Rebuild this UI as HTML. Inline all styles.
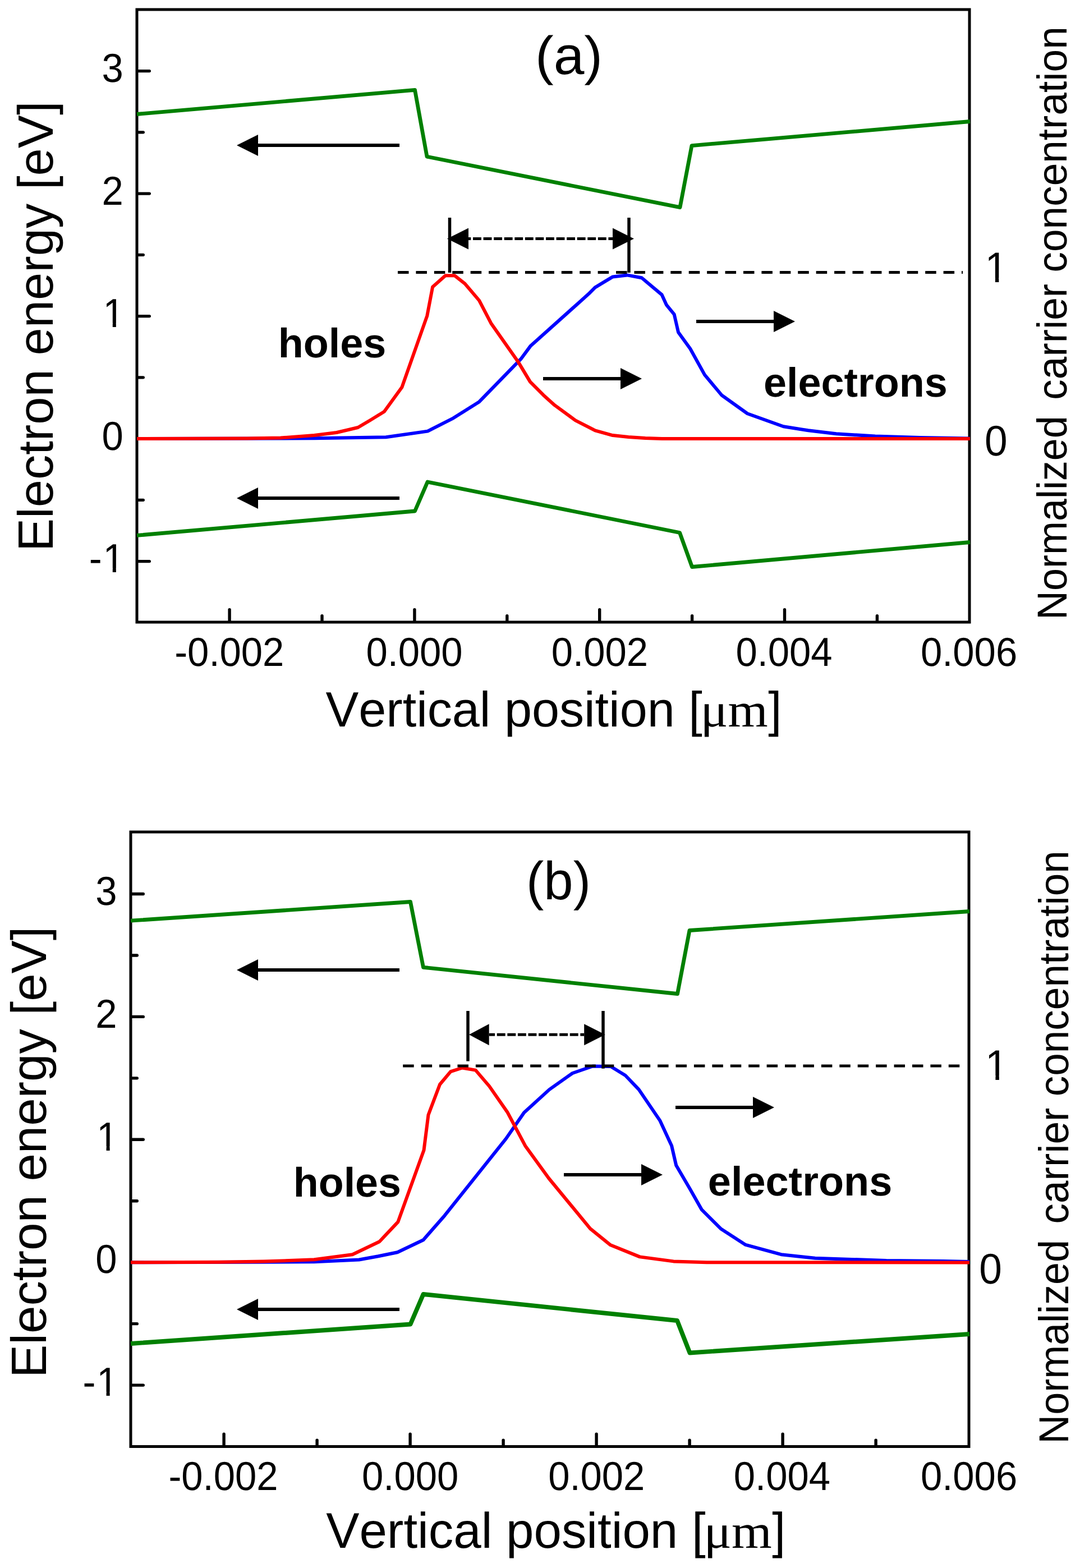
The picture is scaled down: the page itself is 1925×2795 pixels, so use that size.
<!DOCTYPE html>
<html><head><meta charset="utf-8"><title>Band diagram</title>
<style>html,body{margin:0;padding:0;background:#fff;}svg{display:block;}text{fill:#000;text-rendering:geometricPrecision;font-kerning:none;font-feature-settings:"kern" 0,"liga" 0;font-variant-ligatures:none;}</style></head><body>
<svg width="1925" height="2795" viewBox="0 0 1925 2795">
<rect width="1925" height="2795" fill="#fff"/>
<rect x="244" y="17" width="1484" height="1092" fill="none" stroke="#000" stroke-width="5"/>
<line x1="247" y1="126.6" x2="266.3" y2="126.6" stroke="#000" stroke-width="5.4" stroke-linecap="round"/>
<line x1="247" y1="345.1" x2="266.3" y2="345.1" stroke="#000" stroke-width="5.4" stroke-linecap="round"/>
<line x1="247" y1="563.6" x2="266.3" y2="563.6" stroke="#000" stroke-width="5.4" stroke-linecap="round"/>
<line x1="247" y1="782.1" x2="266.3" y2="782.1" stroke="#000" stroke-width="5.4" stroke-linecap="round"/>
<line x1="247" y1="1000.6" x2="266.3" y2="1000.6" stroke="#000" stroke-width="5.4" stroke-linecap="round"/>
<line x1="247" y1="235.85" x2="255.3" y2="235.85" stroke="#000" stroke-width="5.4" stroke-linecap="round"/>
<line x1="247" y1="454.35" x2="255.3" y2="454.35" stroke="#000" stroke-width="5.4" stroke-linecap="round"/>
<line x1="247" y1="672.85" x2="255.3" y2="672.85" stroke="#000" stroke-width="5.4" stroke-linecap="round"/>
<line x1="247" y1="891.35" x2="255.3" y2="891.35" stroke="#000" stroke-width="5.4" stroke-linecap="round"/>
<line x1="409.1" y1="1106" x2="409.1" y2="1086.7" stroke="#000" stroke-width="5.4" stroke-linecap="round"/>
<line x1="738.9" y1="1106" x2="738.9" y2="1086.7" stroke="#000" stroke-width="5.4" stroke-linecap="round"/>
<line x1="1068.7" y1="1106" x2="1068.7" y2="1086.7" stroke="#000" stroke-width="5.4" stroke-linecap="round"/>
<line x1="1398.5" y1="1106" x2="1398.5" y2="1086.7" stroke="#000" stroke-width="5.4" stroke-linecap="round"/>
<line x1="574" y1="1106" x2="574" y2="1097.7" stroke="#000" stroke-width="5.4" stroke-linecap="round"/>
<line x1="903.8" y1="1106" x2="903.8" y2="1097.7" stroke="#000" stroke-width="5.4" stroke-linecap="round"/>
<line x1="1233.6" y1="1106" x2="1233.6" y2="1097.7" stroke="#000" stroke-width="5.4" stroke-linecap="round"/>
<line x1="1563.4" y1="1106" x2="1563.4" y2="1097.7" stroke="#000" stroke-width="5.4" stroke-linecap="round"/>
<polyline points="244,203.5 739.5,160.4 761,279.2 1212,369.7 1233,259.6 1729,216.5" fill="none" stroke="#008000" stroke-width="6.8" stroke-linejoin="round" stroke-linecap="butt"/>
<polyline points="244,954.4 739.5,911 762,859 1211.5,949.5 1233.5,1010.5 1729,966.5" fill="none" stroke="#008000" stroke-width="6.8" stroke-linejoin="round" stroke-linecap="butt"/>
<polyline points="244,782 560,781.3 688,779.2 762.3,768.6 808,745.3 854.2,716.2 928.2,640.2 945.3,617.1 1033,538.4 1049.3,523.8 1060.7,512.4 1091.7,493.6 1117.8,490.4 1143.8,495.3 1179.7,525.4 1187.8,543.3 1201.7,560.4 1209,592.2 1230.2,621.5 1256,668.1 1286.1,704.2 1332.2,737.2 1396.4,760.3 1440.5,767.3 1490.6,773.3 1560,777.4 1640,780 1729,781.6" fill="none" stroke="#0000FF" stroke-width="6" stroke-linejoin="round" stroke-linecap="butt"/>
<polyline points="244,782 440,781.6 500,780.6 560,776 600,771 638,762 660,749 684.8,733.8 716.4,690.2 761.3,562.9 771.1,511.5 793.9,491.2 810.2,491.2 828.6,505.6 854.1,535.6 875.2,576.2 923.2,644.4 945,680.6 968.5,704.2 988.5,722.2 1025.6,749.3 1060.7,767.3 1092.1,776.1 1120.2,779.1 1150.2,781.1 1180,781.9 1729,782" fill="none" stroke="#FF0000" stroke-width="6" stroke-linejoin="round" stroke-linecap="butt"/>
<line x1="709" y1="485.5" x2="1716" y2="485.5" stroke="#000" stroke-width="5" stroke-dasharray="19.5 12.92" stroke-dashoffset="0"/>
<line x1="801.5" y1="388" x2="801.5" y2="486" stroke="#000" stroke-width="5.5" stroke-linecap="butt"/>
<line x1="1121" y1="388" x2="1121" y2="486" stroke="#000" stroke-width="5.5" stroke-linecap="butt"/>
<line x1="835" y1="425.5" x2="1092" y2="425.5" stroke="#000" stroke-width="5" stroke-dasharray="14.9 3.67" stroke-dashoffset="10.57"/>
<polygon points="797,425.5 835,406.5 835,444.5" fill="#000"/>
<polygon points="1130,425.5 1092,406.5 1092,444.5" fill="#000"/>
<line x1="459" y1="259" x2="712" y2="259" stroke="#000" stroke-width="6" stroke-linecap="butt"/>
<polygon points="422,259 460,240 460,278" fill="#000"/>
<line x1="459" y1="888" x2="712" y2="888" stroke="#000" stroke-width="6" stroke-linecap="butt"/>
<polygon points="422,888 460,869 460,907" fill="#000"/>
<line x1="1241" y1="573" x2="1380" y2="573" stroke="#000" stroke-width="6" stroke-linecap="butt"/>
<polygon points="1417,573 1379,554 1379,592" fill="#000"/>
<line x1="968" y1="675" x2="1107" y2="675" stroke="#000" stroke-width="6" stroke-linecap="butt"/>
<polygon points="1144,675 1106,656 1106,694" fill="#000"/>
<text transform="translate(181.54 146) scale(0.68800 0.72200)" font-family="'Liberation Sans', Arial, sans-serif" font-size="100">3</text>
<text transform="translate(181.54 364.5) scale(0.68800 0.72200)" font-family="'Liberation Sans', Arial, sans-serif" font-size="100">2</text>
<g transform="translate(181.54 583) scale(0.68800 0.72200)"><text clip-path="url(#c1_0)" font-family="'Liberation Sans', Arial, sans-serif" font-size="100"><tspan dx="2.8">1</tspan></text></g>
<text transform="translate(181.54 801.5) scale(0.68800 0.72200)" font-family="'Liberation Sans', Arial, sans-serif" font-size="100">0</text>
<g transform="translate(158.63 1020) scale(0.68800 0.72200)"><text clip-path="url(#c1_1)" font-family="'Liberation Sans', Arial, sans-serif" font-size="100">-<tspan dx="2.8">1</tspan></text></g>
<text transform="translate(311.21 1186.9) scale(0.68800 0.72200)" font-family="'Liberation Sans', Arial, sans-serif" font-size="100">-0.002</text>
<text transform="translate(652.47 1186.9) scale(0.68800 0.72200)" font-family="'Liberation Sans', Arial, sans-serif" font-size="100">0.000</text>
<text transform="translate(982.85 1186.9) scale(0.68800 0.72200)" font-family="'Liberation Sans', Arial, sans-serif" font-size="100">0.002</text>
<text transform="translate(1311.43 1186.9) scale(0.68800 0.72200)" font-family="'Liberation Sans', Arial, sans-serif" font-size="100">0.004</text>
<text transform="translate(1640.98 1186.9) scale(0.68800 0.72200)" font-family="'Liberation Sans', Arial, sans-serif" font-size="100">0.006</text>
<g transform="translate(1753.5 502.8) scale(0.73000 0.76500)"><text clip-path="url(#c1_2)" font-family="'Liberation Sans', Arial, sans-serif" font-size="100"><tspan dx="2.8">1</tspan></text></g>
<text transform="translate(1755 812.2) scale(0.73000 0.76500)" font-family="'Liberation Sans', Arial, sans-serif" font-size="100">0</text>
<text transform="translate(953.9 132.26) scale(0.98348 0.95852)" font-family="'Liberation Sans', Arial, sans-serif" font-size="100">(a)</text>
<text transform="translate(495.65 637) scale(0.73771 0.73400)" font-family="'Liberation Sans', Arial, sans-serif" font-weight="bold" font-size="100">holes</text>
<text transform="translate(1360.92 706.8) scale(0.73725 0.73100)" font-family="'Liberation Sans', Arial, sans-serif" font-weight="bold" font-size="100">electrons</text>
<text transform="translate(580.51 1294.8) scale(0.88142 0.88500)" font-family="'Liberation Sans', Arial, sans-serif" font-weight="normal" font-size="100">Vertical position [</text>
<text transform="translate(1248.38 1294.8) scale(0.91515 0.86500)" font-family="'Liberation Serif', 'Times New Roman', serif" font-weight="normal" font-size="100">μm</text>
<text transform="translate(1369.22 1294.8) scale(0.87053 0.88500)" font-family="'Liberation Sans', Arial, sans-serif" font-weight="normal" font-size="100">]</text>
<text transform="translate(94 983.07) rotate(-90) scale(0.88580 0.88600)" font-family="'Liberation Sans', Arial, sans-serif" font-size="100">Electron energy [eV]</text>
<text transform="translate(1901 1104.9) rotate(-90) scale(0.71925 0.74500)" font-family="'Liberation Sans', Arial, sans-serif" font-size="100">Normalized</text>
<text transform="translate(1901 712.7) rotate(-90) scale(0.73003 0.74500)" font-family="'Liberation Sans', Arial, sans-serif" font-size="100">carrier concentration</text>
<rect x="233" y="1483" width="1494" height="1095.5" fill="none" stroke="#000" stroke-width="5"/>
<line x1="236" y1="1593.5" x2="255.3" y2="1593.5" stroke="#000" stroke-width="5.4" stroke-linecap="round"/>
<line x1="236" y1="1812.4" x2="255.3" y2="1812.4" stroke="#000" stroke-width="5.4" stroke-linecap="round"/>
<line x1="236" y1="2031.3" x2="255.3" y2="2031.3" stroke="#000" stroke-width="5.4" stroke-linecap="round"/>
<line x1="236" y1="2250.2" x2="255.3" y2="2250.2" stroke="#000" stroke-width="5.4" stroke-linecap="round"/>
<line x1="236" y1="2469.1" x2="255.3" y2="2469.1" stroke="#000" stroke-width="5.4" stroke-linecap="round"/>
<line x1="236" y1="1702.95" x2="244.3" y2="1702.95" stroke="#000" stroke-width="5.4" stroke-linecap="round"/>
<line x1="236" y1="1921.85" x2="244.3" y2="1921.85" stroke="#000" stroke-width="5.4" stroke-linecap="round"/>
<line x1="236" y1="2140.75" x2="244.3" y2="2140.75" stroke="#000" stroke-width="5.4" stroke-linecap="round"/>
<line x1="236" y1="2359.65" x2="244.3" y2="2359.65" stroke="#000" stroke-width="5.4" stroke-linecap="round"/>
<line x1="399.1" y1="2575.5" x2="399.1" y2="2556.2" stroke="#000" stroke-width="5.4" stroke-linecap="round"/>
<line x1="731.1" y1="2575.5" x2="731.1" y2="2556.2" stroke="#000" stroke-width="5.4" stroke-linecap="round"/>
<line x1="1063.1" y1="2575.5" x2="1063.1" y2="2556.2" stroke="#000" stroke-width="5.4" stroke-linecap="round"/>
<line x1="1395.1" y1="2575.5" x2="1395.1" y2="2556.2" stroke="#000" stroke-width="5.4" stroke-linecap="round"/>
<line x1="565.1" y1="2575.5" x2="565.1" y2="2567.2" stroke="#000" stroke-width="5.4" stroke-linecap="round"/>
<line x1="897.1" y1="2575.5" x2="897.1" y2="2567.2" stroke="#000" stroke-width="5.4" stroke-linecap="round"/>
<line x1="1229.1" y1="2575.5" x2="1229.1" y2="2567.2" stroke="#000" stroke-width="5.4" stroke-linecap="round"/>
<line x1="1561.1" y1="2575.5" x2="1561.1" y2="2567.2" stroke="#000" stroke-width="5.4" stroke-linecap="round"/>
<polyline points="233,1641.2 731.5,1607.5 754.5,1724.3 1207.5,1771.5 1229,1658.5 1728,1624.5" fill="none" stroke="#008000" stroke-width="6.8" stroke-linejoin="round" stroke-linecap="butt"/>
<polyline points="233,2395 731.5,2360.5 754.5,2307 1207,2354 1229.5,2411.5 1728,2378" fill="none" stroke="#008000" stroke-width="7.9" stroke-linejoin="round" stroke-linecap="butt"/>
<polyline points="233,2250.2 470,2249.8 560,2249.2 640,2245.5 674.3,2239.3 708.4,2232.3 754.5,2210.2 792.6,2166.7 901.6,2030.1 934.1,1983.2 979.2,1942.1 1020.4,1913 1056.5,1900.5 1088.6,1901 1114.7,1917 1138.7,1942.1 1176.1,1997.1 1197.1,2042.3 1205.2,2077.3 1230.2,2120 1250.6,2156.1 1284.7,2190.2 1329,2218.9 1392.4,2236.2 1452.9,2242.8 1579.7,2246.9 1680.6,2247.9 1728,2249" fill="none" stroke="#0000FF" stroke-width="6" stroke-linejoin="round" stroke-linecap="butt"/>
<polyline points="233,2250.2 390,2249.8 470,2248.6 560,2245.3 628.2,2236.3 676.3,2213.2 709.4,2178.1 755.5,2050.3 763.5,1987.2 784,1933 803.2,1910.1 823.9,1903.5 847.7,1907.6 872.1,1936.1 904.2,1982.2 936.2,2042.4 978.3,2100.5 1052.1,2190.2 1088.2,2219.3 1140.4,2240.4 1200.5,2248.4 1260,2250.2 1728,2250.5" fill="none" stroke="#FF0000" stroke-width="6" stroke-linejoin="round" stroke-linecap="butt"/>
<line x1="718.2" y1="1900" x2="1716" y2="1900" stroke="#000" stroke-width="5" stroke-dasharray="19.5 12.92" stroke-dashoffset="0"/>
<line x1="834" y1="1802" x2="834" y2="1891.6" stroke="#000" stroke-width="5.5" stroke-linecap="butt"/>
<line x1="1075" y1="1802" x2="1075" y2="1904.7" stroke="#000" stroke-width="5.5" stroke-linecap="butt"/>
<line x1="871.7" y1="1844.2" x2="1041.2" y2="1844.2" stroke="#000" stroke-width="5" stroke-dasharray="14.9 3.67" stroke-dashoffset="4.49"/>
<polygon points="836,1844.2 871.7,1825.2 871.7,1863.2" fill="#000"/>
<polygon points="1078.7,1844.2 1041.2,1825.2 1041.2,1863.2" fill="#000"/>
<line x1="459" y1="1729" x2="712" y2="1729" stroke="#000" stroke-width="6" stroke-linecap="butt"/>
<polygon points="422,1729 460,1710 460,1748" fill="#000"/>
<line x1="459" y1="2334" x2="712" y2="2334" stroke="#000" stroke-width="6" stroke-linecap="butt"/>
<polygon points="422,2334 460,2315 460,2353" fill="#000"/>
<line x1="1204" y1="1974" x2="1343" y2="1974" stroke="#000" stroke-width="6" stroke-linecap="butt"/>
<polygon points="1380,1974 1342,1955 1342,1993" fill="#000"/>
<line x1="1005" y1="2094" x2="1144" y2="2094" stroke="#000" stroke-width="6" stroke-linecap="butt"/>
<polygon points="1181,2094 1143,2075 1143,2113" fill="#000"/>
<text transform="translate(170.34 1612.7) scale(0.68800 0.72200)" font-family="'Liberation Sans', Arial, sans-serif" font-size="100">3</text>
<text transform="translate(170.34 1831.6) scale(0.68800 0.72200)" font-family="'Liberation Sans', Arial, sans-serif" font-size="100">2</text>
<g transform="translate(170.34 2050.5) scale(0.68800 0.72200)"><text clip-path="url(#c1_3)" font-family="'Liberation Sans', Arial, sans-serif" font-size="100"><tspan dx="2.8">1</tspan></text></g>
<text transform="translate(170.34 2269.4) scale(0.68800 0.72200)" font-family="'Liberation Sans', Arial, sans-serif" font-size="100">0</text>
<g transform="translate(147.43 2488.3) scale(0.68800 0.72200)"><text clip-path="url(#c1_4)" font-family="'Liberation Sans', Arial, sans-serif" font-size="100">-<tspan dx="2.8">1</tspan></text></g>
<text transform="translate(300.41 2656) scale(0.68800 0.72200)" font-family="'Liberation Sans', Arial, sans-serif" font-size="100">-0.002</text>
<text transform="translate(645.07 2656) scale(0.68800 0.72200)" font-family="'Liberation Sans', Arial, sans-serif" font-size="100">0.000</text>
<text transform="translate(977.2 2656) scale(0.68800 0.72200)" font-family="'Liberation Sans', Arial, sans-serif" font-size="100">0.002</text>
<text transform="translate(1307.83 2656) scale(0.68800 0.72200)" font-family="'Liberation Sans', Arial, sans-serif" font-size="100">0.004</text>
<text transform="translate(1640.98 2656) scale(0.68800 0.72200)" font-family="'Liberation Sans', Arial, sans-serif" font-size="100">0.006</text>
<g transform="translate(1754 1924.8) scale(0.73000 0.76500)"><text clip-path="url(#c1_5)" font-family="'Liberation Sans', Arial, sans-serif" font-size="100"><tspan dx="2.8">1</tspan></text></g>
<text transform="translate(1745.2 2288.2) scale(0.73000 0.76500)" font-family="'Liberation Sans', Arial, sans-serif" font-size="100">0</text>
<text transform="translate(938.07 1603.22) scale(0.93977 0.95530)" font-family="'Liberation Sans', Arial, sans-serif" font-size="100">(b)</text>
<text transform="translate(522.76 2132.8) scale(0.73571 0.73400)" font-family="'Liberation Sans', Arial, sans-serif" font-weight="bold" font-size="100">holes</text>
<text transform="translate(1261.81 2131.1) scale(0.73863 0.73100)" font-family="'Liberation Sans', Arial, sans-serif" font-weight="bold" font-size="100">electrons</text>
<text transform="translate(581.21 2758.9) scale(0.88826 0.89300)" font-family="'Liberation Sans', Arial, sans-serif" font-weight="normal" font-size="100">Vertical position [</text>
<text transform="translate(1254.53 2758.9) scale(0.92172 0.86400)" font-family="'Liberation Serif', 'Times New Roman', serif" font-weight="normal" font-size="100">μm</text>
<text transform="translate(1376.33 2758.9) scale(0.85543 0.89300)" font-family="'Liberation Sans', Arial, sans-serif" font-weight="normal" font-size="100">]</text>
<text transform="translate(82 2455.88) rotate(-90) scale(0.88771 0.88600)" font-family="'Liberation Sans', Arial, sans-serif" font-size="100">Electron energy [eV]</text>
<text transform="translate(1904 2573.7) rotate(-90) scale(0.71925 0.74500)" font-family="'Liberation Sans', Arial, sans-serif" font-size="100">Normalized</text>
<text transform="translate(1904 2181.5) rotate(-90) scale(0.73003 0.74500)" font-family="'Liberation Sans', Arial, sans-serif" font-size="100">carrier concentration</text>
<defs><clipPath id="c1_0" clipPathUnits="userSpaceOnUse"><path d="M -100 -200 H 600 V -10 H 36.78 V 6 H 27.95 V -10 H -100 Z"/></clipPath><clipPath id="c1_1" clipPathUnits="userSpaceOnUse"><path d="M -100 -200 H 600 V -10 H 70.08 V 6 H 61.25 V -10 H -100 Z"/></clipPath><clipPath id="c1_2" clipPathUnits="userSpaceOnUse"><path d="M -100 -200 H 600 V -10 H 36.78 V 6 H 27.95 V -10 H -100 Z"/></clipPath><clipPath id="c1_3" clipPathUnits="userSpaceOnUse"><path d="M -100 -200 H 600 V -10 H 36.78 V 6 H 27.95 V -10 H -100 Z"/></clipPath><clipPath id="c1_4" clipPathUnits="userSpaceOnUse"><path d="M -100 -200 H 600 V -10 H 70.08 V 6 H 61.25 V -10 H -100 Z"/></clipPath><clipPath id="c1_5" clipPathUnits="userSpaceOnUse"><path d="M -100 -200 H 600 V -10 H 36.78 V 6 H 27.95 V -10 H -100 Z"/></clipPath></defs>
</svg></body></html>
